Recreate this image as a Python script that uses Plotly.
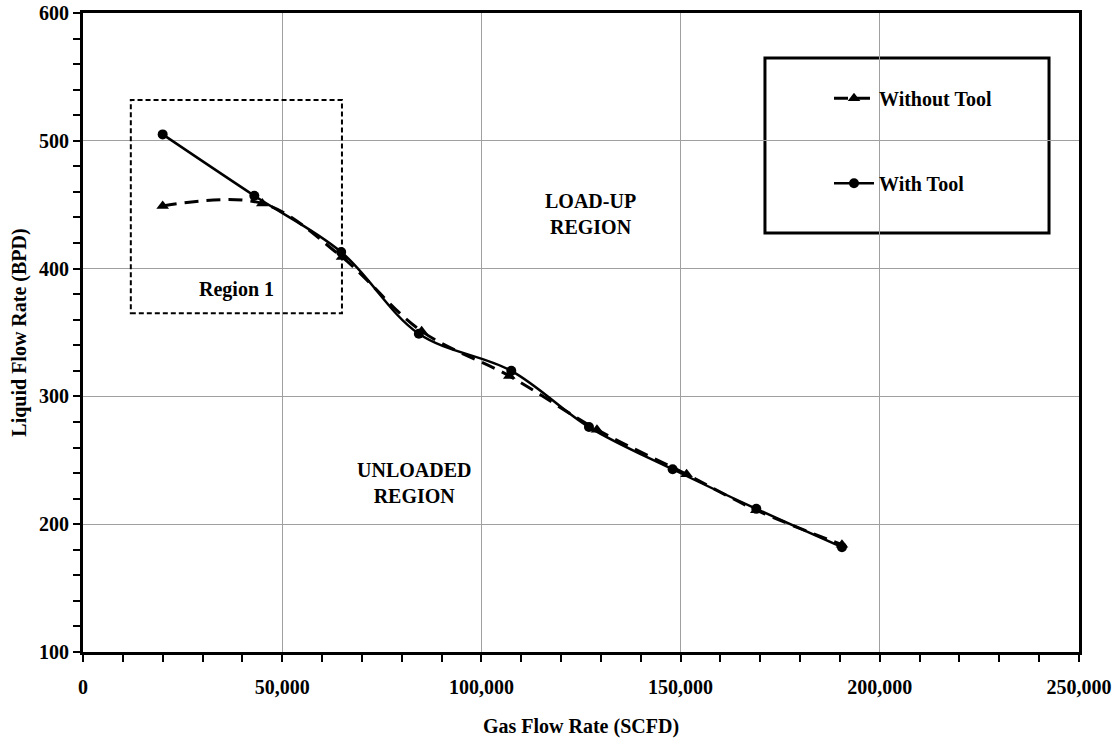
import plotly.graph_objects as go

# Data
gas_without = [20000, 45000, 65000, 85000, 107000, 129000, 151500, 169000, 190500]
liq_without = [449, 451, 409, 351, 316, 274, 239, 211, 184]
gas_with = [20000, 43000, 64800, 84300, 107500, 127000, 148000, 169000, 190500]
liq_with = [505, 457, 413, 349, 320, 276, 243, 212, 182]

x_ticks = [0, 50000, 100000, 150000, 200000, 250000]
x_tick_labels = ["0", "50,000", "100,000", "150,000", "200,000", "250,000"]
y_ticks = [100, 200, 300, 400, 500, 600]

FONT = "Liberation Serif"
fnt = dict(family=FONT, size=20, color="black", weight="bold")

fig = go.Figure()
fig.add_trace(go.Scatter(
    x=gas_without, y=liq_without, name="Without Tool", legendgroup="a",
    mode="lines+markers", line=dict(color="black", width=3, dash="14px,8px", shape="spline", smoothing=1),
    marker=dict(symbol="triangle-up", size=11, color="black"),
))
fig.add_trace(go.Scatter(
    x=gas_with, y=liq_with, name="With Tool", legendgroup="b",
    mode="lines+markers", line=dict(color="black", width=2.5, shape="spline", smoothing=1),
    marker=dict(symbol="circle", size=10, color="black"),
))

axis_common = dict(
    showline=True, linecolor="black", linewidth=3, mirror=True,
    ticks="outside", tickcolor="black", tickwidth=2, ticklen=7,
    showgrid=True, gridcolor="#a0a0a0", gridwidth=1, zeroline=False,
    tickfont=fnt, automargin=False,
)

fig.update_xaxes(
    range=[0, 250000], tickvals=x_ticks, ticktext=x_tick_labels,
    minor=dict(dtick=10000, ticks="outside", ticklen=7, tickwidth=2, tickcolor="black", showgrid=False),
    title=dict(text="Gas Flow Rate (SCFD)", font=fnt, standoff=22),
    ticklabelstandoff=8,
    **axis_common,
)
fig.update_yaxes(
    range=[100, 600], tickvals=y_ticks,
    minor=dict(dtick=20, ticks="outside", ticklen=7, tickwidth=2, tickcolor="black", showgrid=False),
    title=dict(text="Liquid Flow Rate (BPD)", font=fnt, standoff=8),
    **axis_common,
)

# Region 1 box
fig.add_shape(type="rect", xref="x", yref="y", x0=12000, x1=65000, y0=365, y1=532,
              line=dict(color="black", width=2, dash="5px,3px"))
# Legend box
fig.add_shape(type="rect", xref="paper", yref="paper", x0=0.6847, x1=0.9699, y0=0.6557, y1=0.9296,
              line=dict(color="black", width=3), fillcolor="white", layer="below")

fig.add_annotation(x=38500, y=384, text="Region 1", showarrow=False, font=fnt)
fig.add_annotation(x=127400, y=443, text="LOAD-UP<br>REGION", showarrow=False, font=fnt)
fig.add_annotation(x=83200, y=232, text="UNLOADED<br>REGION", showarrow=False, font=fnt)

fig.update_layout(
    width=1118, height=738,
    margin=dict(l=83, r=39, t=13, b=86),
    plot_bgcolor="white", paper_bgcolor="white",
    font=dict(family=FONT, color="black"),
    legend=dict(x=0.749, y=0.897, xanchor="left", yanchor="top",
                bgcolor="rgba(0,0,0,0)", borderwidth=0, font=fnt,
                tracegroupgap=56, itemwidth=40),
    showlegend=True,
)

fig.write_html("out.html")
